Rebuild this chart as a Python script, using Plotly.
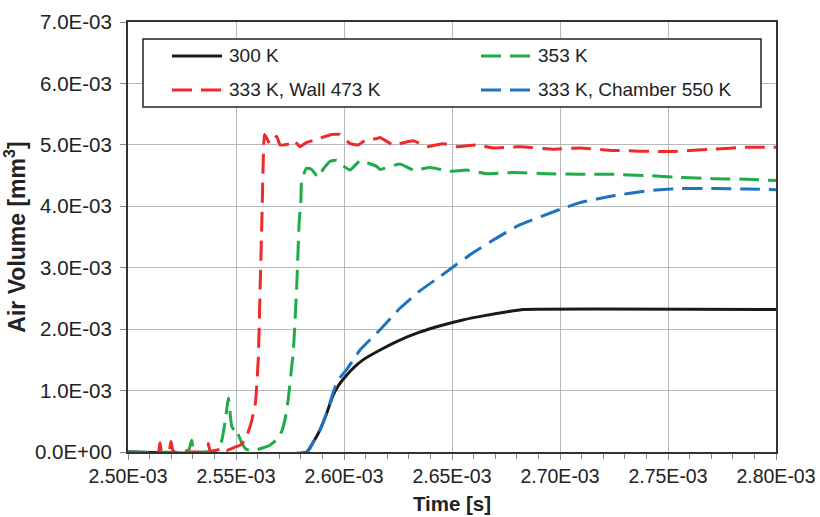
import numpy as np
import plotly.graph_objects as go

# time in units of 1E-03 s, volume in units of 1E-03 mm^3
t_300 = [2.50, 2.5827, 2.5856, 2.5889, 2.5920, 2.5949, 2.5974, 2.6012, 2.6050, 2.6088, 2.6167,
         2.6251, 2.635, 2.645, 2.655, 2.665, 2.675, 2.683, 2.80]
v_300 = [0.0, 0.0, 0.15, 0.36, 0.63, 0.92, 1.08, 1.25, 1.39, 1.50, 1.66,
         1.81, 1.95, 2.06, 2.15, 2.22, 2.28, 2.32, 2.32]

t_353 = [2.50, 2.524, 2.526, 2.528, 2.5295, 2.5305, 2.540, 2.542, 2.5435, 2.545, 2.5465,
         2.5475, 2.548, 2.549, 2.550, 2.5505, 2.552, 2.5542, 2.556, 2.560, 2.5657, 2.5688,
         2.5711, 2.5727, 2.5742, 2.5757, 2.5765, 2.5781, 2.5793, 2.5800, 2.5804, 2.5827,
         2.585, 2.5881, 2.5903, 2.5935, 2.5966, 2.5989, 2.6028, 2.6074, 2.6151, 2.6167,
         2.6259, 2.6321, 2.6398, 2.6491, 2.6568, 2.6660, 2.6784, 2.6938, 2.7093, 2.7247,
         2.7401, 2.7556, 2.771, 2.7864, 2.80]
v_353 = [0.0, 0.0, 0.03, 0.02, 0.19, 0.0, 0.02, 0.05, 0.20, 0.50, 0.88,
         0.55, 0.42, 0.36, 0.30, 0.33, 0.20, 0.06, 0.03, 0.04, 0.11, 0.20,
         0.33, 0.53, 0.86, 1.36, 1.61, 2.69, 3.78, 4.05, 4.43, 4.62,
         4.60, 4.47, 4.60, 4.73, 4.75, 4.68, 4.59, 4.74, 4.65, 4.60,
         4.69, 4.59, 4.63, 4.57, 4.59, 4.53, 4.55, 4.53, 4.52, 4.52,
         4.50, 4.47, 4.45, 4.44, 4.42]

t_wall = [2.50, 2.514, 2.5148, 2.5155, 2.519, 2.5199, 2.521, 2.530, 2.537, 2.5372, 2.538,
          2.543, 2.5434, 2.546, 2.5495, 2.5519, 2.5542, 2.5557, 2.5572, 2.559, 2.5603,
          2.5612, 2.562, 2.5627, 2.5632, 2.5657, 2.5688, 2.5704, 2.575, 2.5769, 2.5796,
          2.5827, 2.5874, 2.5943, 2.5981, 2.6028, 2.6065, 2.6105, 2.6151, 2.6167, 2.6228,
          2.6321, 2.6383, 2.646, 2.6522, 2.6614, 2.6691, 2.6815, 2.6969, 2.7093, 2.7247,
          2.7494, 2.771, 2.7864, 2.80]
v_wall = [0.0, 0.0, 0.15, 0.01, 0.02, 0.17, 0.01, 0.0, 0.0, 0.14, 0.02,
          0.05, 0.08, 0.03, 0.08, 0.11, 0.19, 0.33, 0.50, 0.80, 1.50,
          2.70, 3.80, 4.85, 5.17, 5.02, 5.14, 5.00, 5.02, 5.07, 4.97,
          5.04, 5.09, 5.17, 5.17, 5.02, 5.00, 5.09, 5.10, 5.12, 5.00,
          5.065, 4.97, 5.02, 4.97, 5.00, 4.95, 4.97, 4.93, 4.95, 4.91,
          4.89, 4.93, 4.96, 4.96]

t_ch = [2.50, 2.583, 2.5856, 2.5889, 2.5920, 2.5949, 2.5972, 2.6012, 2.6074, 2.6167,
        2.6259, 2.635, 2.645, 2.65, 2.66, 2.67, 2.6815, 2.70, 2.7093, 2.7247,
        2.7401, 2.7556, 2.771, 2.7864, 2.80]
v_ch = [0.0, 0.0, 0.15, 0.36, 0.63, 0.96, 1.17, 1.34, 1.66, 1.99,
        2.34, 2.62, 2.87, 3.00, 3.25, 3.47, 3.70, 3.95, 4.06, 4.17,
        4.25, 4.29, 4.29, 4.28, 4.27]

x_tickvals = [2.50, 2.55, 2.60, 2.65, 2.70, 2.75, 2.80]
x_ticktext = ["2.50E-03", "2.55E-03", "2.60E-03", "2.65E-03", "2.70E-03", "2.75E-03", "2.80E-03"]
y_tickvals = [0, 1, 2, 3, 4, 5, 6, 7]
y_ticktext = ["0.0E+00", "1.0E-03", "2.0E-03", "3.0E-03", "4.0E-03", "5.0E-03", "6.0E-03", "7.0E-03"]

names = ["300 K", "353 K", "333 K, Wall 473 K", "333 K, Chamber 550 K"]
colors = ["#1a1a1a", "#1fab4a", "#ee2a2a", "#1f72c0"]
dashes = ["solid", "20px,9px", "20px,9px", "20px,9px"]
series = [(t_300, v_300), (t_353, v_353), (t_wall, v_wall), (t_ch, v_ch)]

FONT = "Liberation Sans, Arial, sans-serif"
fig = go.Figure()
for (t, v), n, c, d in zip(series, names, colors, dashes):
    fig.add_trace(go.Scatter(x=np.array(t), y=np.array(v), mode="lines", name=n,
                             line=dict(color=c, width=3, dash=d, shape="spline", smoothing=0.4),
                             showlegend=False))

L, R, T, B = 128, 44, 22, 65
W, H = 820, 517
pw, ph = W - L - R, H - T - B

def px(x):
    return (x - L) / pw

def py(y):
    return (H - B - y) / ph

# legend box
fig.add_shape(type="rect", xref="paper", yref="paper", x0=px(143), x1=px(761), y0=py(107), y1=py(39),
              line=dict(color="#222", width=1.5), fillcolor="white", layer="above")
leg_pos = [(172, 56), (481, 56), (172, 90), (481, 90)]
for (lx, ly), n, c, d in zip(leg_pos, names, colors, dashes):
    fig.add_shape(type="line", xref="paper", yref="paper", x0=px(lx), x1=px(lx + 50), y0=py(ly), y1=py(ly),
                  line=dict(color=c, width=3, dash=d), layer="above")
    fig.add_annotation(xref="paper", yref="paper", x=px(lx + 55), y=py(ly), text=n, showarrow=False,
                       xanchor="left", yanchor="middle", font=dict(family=FONT, size=19, color="#222"))

fig.update_layout(
    width=W, height=H, margin=dict(l=L, r=R, t=T, b=B),
    paper_bgcolor="white", plot_bgcolor="white",
    font=dict(family=FONT, size=20, color="#222"),
)
fig.update_xaxes(range=[2.50, 2.80], tickvals=x_tickvals, ticktext=x_ticktext, automargin=False,
                 showgrid=True, gridcolor="#b8b8b8", gridwidth=1,
                 showline=True, linecolor="#333", linewidth=2, mirror=True,
                 ticks="outside", ticklen=6, tickcolor="#888", zeroline=False,
                 minor=dict(dtick=0.01, ticks="outside", ticklen=5, tickcolor="#888", showgrid=False),
                 tickfont=dict(family=FONT, size=19.5, color="#222"),
                 title=dict(text="<b>Time [s]</b>", font=dict(family=FONT, size=20.5, color="#222"), standoff=10))
fig.update_yaxes(range=[0, 7], tickvals=y_tickvals, ticktext=y_ticktext, automargin=False,
                 showgrid=True, gridcolor="#b8b8b8", gridwidth=1,
                 showline=True, linecolor="#333", linewidth=2, mirror=True,
                 ticks="outside", ticklen=6, tickcolor="#888", zeroline=False,
                 ticklabelstandoff=4,
                 tickfont=dict(family=FONT, size=20.5, color="#222"),
                 title=dict(text="<b>Air Volume [mm<sup>3</sup>]</b>", font=dict(family=FONT, size=23, color="#222"), standoff=6))

fig.write_html("out.html")
